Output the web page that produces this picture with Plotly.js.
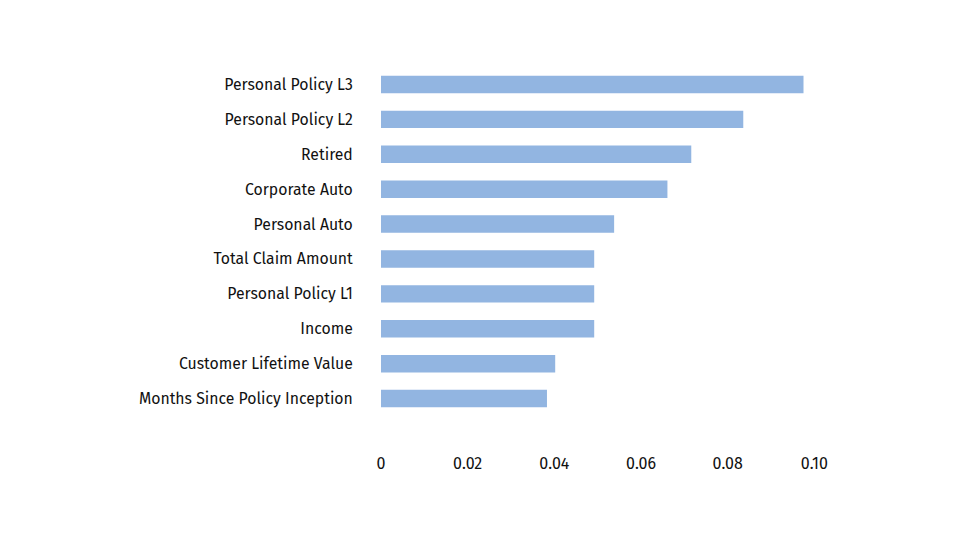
<!DOCTYPE html>
<html>
<head>
<meta charset="utf-8">
<script src="https://cdn.plot.ly/plotly-3.0.1.min.js"></script>
<style>html,body{margin:0;padding:0;background:#fff;}</style>
</head>
<body>
<div id="chart" style="width:968px;height:548px;"></div>
<script>
const features = ["Months Since Policy Inception", "Customer Lifetime Value", "Income", "Personal Policy L1", "Total Claim Amount", "Personal Auto", "Corporate Auto", "Retired", "Personal Policy L2", "Personal Policy L3"];
const importance = [0.0383, 0.0402, 0.0492, 0.0492, 0.0492, 0.0538, 0.0661, 0.0716, 0.0836, 0.0975];
const tickValues = [0, 0.02, 0.04, 0.06, 0.08, 0.10];
const tickLabels = ["0", "0.02", "0.04", "0.06", "0.08", "0.10"];

const trace = {
  type: "bar",
  orientation: "h",
  x: importance,
  y: features,
  width: 0.5,
  marker: {color: "#92b5e1"},
  hoverinfo: "x+y"
};

const layout = {
  width: 968,
  height: 548,
  margin: {l: 381, r: 132.3, t: 66.5, b: 131.5, pad: 0},
  paper_bgcolor: "#fff",
  plot_bgcolor: "#fff",
  showlegend: false,
  font: {family: "Fira Sans, Lato, Noto Sans, sans-serif", size: 15.8, color: "#111"},
  xaxis: {
    range: [0, 0.105],
    tickvals: tickValues,
    ticktext: tickLabels,
    tickfont: {size: 16},
    showgrid: false,
    zeroline: false,
    showline: false,
    ticks: "outside",
    ticklen: 33,
    tickcolor: "rgba(0,0,0,0)"
  },
  yaxis: {
    type: "category",
    range: [-0.5, 9.5],
    showgrid: false,
    zeroline: false,
    showline: false,
    ticks: "outside",
    ticklen: 24,
    tickcolor: "rgba(0,0,0,0)"
  }
};

Plotly.newPlot("chart", [trace], layout, {displayModeBar: false, staticPlot: true});
</script>
</body>
</html>
